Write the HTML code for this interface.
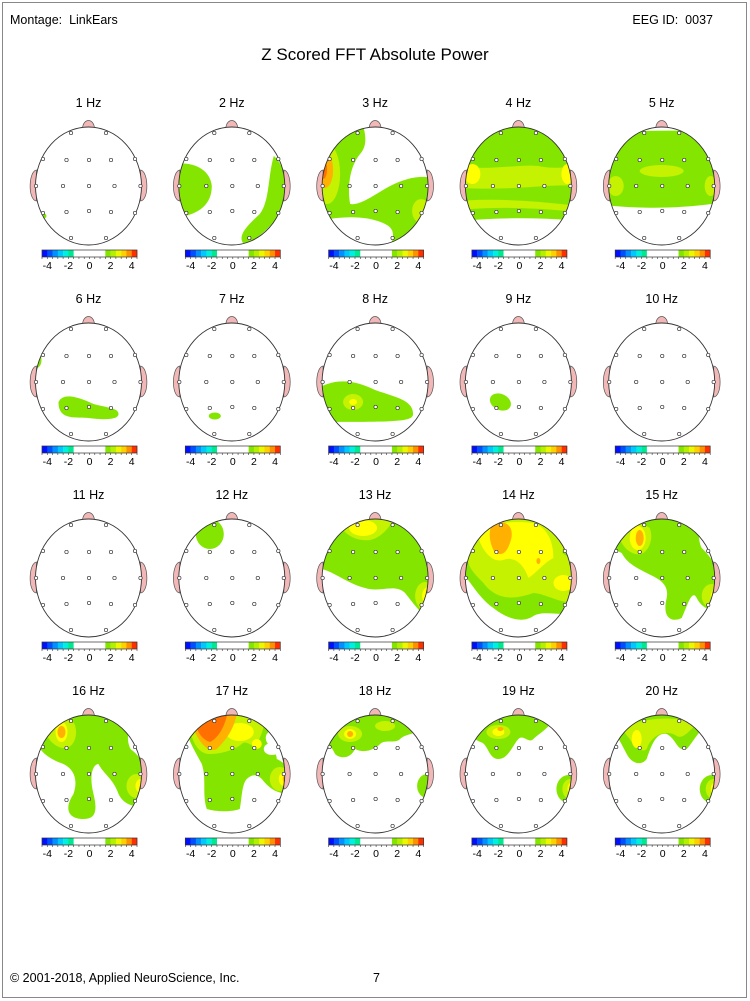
<!DOCTYPE html>
<html><head><meta charset="utf-8"><style>
body{margin:0;background:#fff;}
svg{display:block;font-family:"Liberation Sans",sans-serif;}
</style></head><body>
<svg id="s" width="750" height="1001" xmlns="http://www.w3.org/2000/svg">
<rect x="2.5" y="2.5" width="744" height="995" fill="#fff" stroke="#888" stroke-width="1"/>
<text x="10" y="24" font-size="12.5" xml:space="preserve">Montage:  LinkEars</text>
<text x="713" y="24" font-size="12.5" text-anchor="end" xml:space="preserve">EEG ID:  0037</text>
<text x="375" y="60" font-size="17" text-anchor="middle">Z Scored FFT Absolute Power</text>
<text x="10" y="982" font-size="12.5">© 2001-2018, Applied NeuroScience, Inc.</text>
<text x="373" y="982" font-size="12.5">7</text>
<g id="g"></g>
</svg>
<script>
const G="#84e600",LG="#c4f200",Y="#ffff00",O="#ffb000",DO="#ff7000",R="#ff3000",W="#fff";
const E=(x,y,rx,ry,c,rot)=>`<ellipse cx="${x}" cy="${y}" rx="${rx}" ry="${ry}" fill="${c}" ${rot?`transform="rotate(${rot} ${x} ${y})"`:''}/>`;
const P=(d,c)=>`<path d="${d}" fill="${c}"/>`;
const FULL=c=>`<rect x="-60" y="-65" width="120" height="130" fill="${c}"/>`;
const blobs=[
/*1*/ E(-46,30,4,3,G),
/*2*/ P("M-60,-22 C-40,-25 -22,-18 -20,0 C-20,20 -35,30 -60,32Z",G)+P("M42,-30 C55,-20 58,10 50,25 C40,40 25,55 12,58 C5,50 15,40 28,28 C38,15 36,-10 42,-30Z",G),
/*3*/ FULL(G)+P("M-15,-70 L70,-70 L70,-5 C50,-12 35,-10 15,0 C0,8 -15,20 -25,18 C-28,0 -25,-20 -15,-32 C-8,-40 -8,-50 -15,-70Z",W)+P("M-70,38 C-40,30 -10,28 10,38 C25,45 15,60 10,70 L-70,70Z",W)+E(-48,-12,13,30,LG)+E(-50,-16,8,18,O)+E(-52,-17,4,10,DO)+E(46,25,9,12,LG),
/*4*/ FULL(G)+P("M-70,36 C-30,32 20,30 70,36 L70,70 L-70,70Z",W)+P("M-70,-70 L70,-70 L70,-54 C40,-52 20,-58 10,-62 L-20,-62 C-35,-55 -50,-52 -70,-50Z",W)+P("M-60,-20 C-30,-15 0,-22 20,-20 C40,-16 50,-20 60,-20 L60,0 C30,-3 0,5 -60,2Z",LG)+E(-46,-12,8,10,Y)+E(49,-12,6,10,Y)+P("M-60,15 C-20,12 20,15 60,20 L60,26 C20,22 -20,20 -60,24Z",LG),
/*5*/ FULL(G)+P("M-70,18 C-30,22 10,25 70,15 L70,70 L-70,70Z",W)+P("M-70,-70 L70,-70 L70,-54 C40,-56 -40,-56 -70,-52Z",W)+E(-46,0,8,10,LG)+E(49,0,6,10,LG)+E(0,-15,22,6,LG),
/*6*/ E(-52,-22,5,8,G)+P("M-30,20 C-25,10 -10,15 5,22 C20,26 30,26 30,32 C30,38 15,38 0,36 C-15,35 -30,38 -30,20Z",G),
/*7*/ E(-17,34,6,3.5,G),
/*8*/ P("M-60,8 C-40,-5 -20,-2 0,8 C20,15 38,18 38,32 C38,40 20,40 -60,40Z",G)+E(-22,20,10,8,LG)+E(-22,20,4,3,Y),
/*9*/ E(-18,20,11,8,G,25),
/*10*/ "",
/*11*/ "",
/*12*/ E(-22,-44,14,15,G),
/*13*/ P("M-60,-70 L40,-70 C45,-60 50,-40 60,-20 L60,40 C48,40 42,30 30,15 C20,5 5,15 -10,10 C-30,5 -45,-10 -60,-10Z",G)+P("M-40,-62 L20,-62 C15,-50 5,-40 -5,-38 C-20,-36 -35,-45 -40,-62Z",LG)+E(-12,-50,14,8,Y)+E(50,18,10,14,LG)+E(53,18,6,9,Y)+E(55,18,3,5,O),
/*14*/ P("M-60,-30 L-60,-70 L60,-70 L60,35 C40,38 25,32 15,38 C5,45 -10,42 -25,30 C-40,20 -50,0 -60,-10Z",G)+P("M-50,-30 C-40,-45 -30,-60 0,-62 L40,-62 C45,-50 48,-40 44,-25 L58,-15 L58,25 C40,25 25,15 15,15 C0,20 -20,25 -35,5 C-45,-5 -55,-15 -50,-30Z",LG)+P("M-40,-40 C-30,-55 -10,-58 15,-55 C30,-50 35,-35 35,-20 C25,-15 18,-5 10,0 C5,-15 -5,-22 -15,-18 C-25,-15 -35,-25 -40,-40Z",Y)+E(45,5,10,8,Y)+P("M-25,-55 C-12,-58 -5,-52 -7,-40 C-10,-28 -15,-20 -24,-26 C-29,-35 -31,-48 -25,-55Z",O)+E(20,-17,2,3,O),
/*15*/ P("M-55,-45 C-40,-60 -10,-65 30,-60 C40,-50 35,-40 40,-30 C50,-20 60,-10 60,30 C50,35 40,30 35,20 C30,10 25,30 20,40 C10,45 0,40 5,20 C8,5 -5,0 -15,-5 C-25,-10 -35,-15 -40,-25 C-50,-30 -58,-35 -55,-45Z",G)+P("M-44,-45 C-35,-56 -20,-56 -12,-50 C-8,-40 -12,-28 -20,-24 C-30,-22 -40,-30 -44,-45Z",LG)+E(-24,-40,8,12,Y)+E(-22,-40,4,8,O)+E(50,18,10,12,LG)+E(54,18,5,7,Y)+E(56,18,3,4,O),
/*16*/ P("M-55,-45 C-40,-62 0,-65 40,-60 C45,-50 35,-40 42,-25 C55,-15 60,-5 60,30 C45,35 35,30 30,20 C25,5 15,0 10,-10 C5,-10 0,0 5,20 C10,40 5,45 -5,45 C-20,45 -25,35 -15,20 C-10,5 -15,-5 -25,-10 C-40,-15 -55,-25 -55,-45Z",G)+P("M-46,-48 C-35,-58 -18,-58 -14,-50 C-10,-40 -14,-28 -22,-26 C-34,-25 -42,-36 -46,-48Z",LG)+E(-27,-42,6,10,Y)+E(-27,-42,4,6,O)+E(48,12,10,12,LG)+E(52,12,5,7,Y)+E(55,12,3,4,O),
/*17*/ P("M-45,-45 C-30,-62 10,-65 35,-62 C45,-52 40,-45 35,-40 C30,-30 45,-25 45,-15 C55,-10 60,-5 60,20 C45,20 38,15 30,5 C25,0 20,0 15,5 C10,10 10,25 8,35 C0,38 -15,38 -25,35 C-30,20 -25,5 -30,-10 C-35,-20 -45,-35 -45,-45Z",G)+P("M-42,-45 C-30,-60 0,-62 30,-60 C35,-50 30,-40 25,-30 C20,-25 15,-35 10,-30 C0,-22 -15,-20 -22,-20 C-35,-20 -40,-35 -42,-45Z",LG)+E(8,-42,14,9,Y)+E(25,-30,5,5,Y)+P("M-40,-50 C-25,-62 -10,-64 5,-60 C2,-45 -5,-35 -15,-25 C-25,-20 -35,-35 -40,-50Z",O)+P("M-35,-50 C-25,-60 -15,-60 -5,-58 C-8,-45 -15,-35 -22,-32 C-30,-35 -35,-42 -35,-50Z",DO)+E(48,5,10,12,LG)+E(52,5,5,7,Y)+E(54,5,3,4,O)+E(40,-25,8,6,W),
/*18*/ P("M-50,-45 C-30,-65 30,-65 50,-45 C40,-40 30,-40 25,-35 C20,-30 10,-35 5,-30 C0,-25 -10,-20 -20,-25 C-25,-15 -35,-15 -40,-20 C-45,-30 -50,-35 -50,-45Z",G)+E(-25,-40,12,8,LG)+E(-25,-40,6,5,Y)+E(-25,-40,3,3,O)+E(10,-48,10,5,LG)+E(52,12,10,12,G),
/*19*/ P("M-48,-45 C-30,-65 20,-65 35,-55 C30,-45 20,-40 15,-35 C10,-30 5,-40 0,-35 C-5,-30 -10,-15 -20,-15 C-30,-15 -30,-30 -38,-32 C-45,-35 -50,-40 -48,-45Z",G)+E(-20,-42,12,7,LG)+E(-20,-42,6,4,Y)+E(-18,-45,3,2,O)+E(50,15,12,14,G)+E(52,15,8,10,LG)+E(54,15,5,7,Y)+E(56,15,3,4,DO),
/*20*/ P("M-48,-45 C-30,-65 30,-65 45,-50 C35,-40 30,-30 25,-25 C15,-22 15,-35 5,-40 C-5,-42 -10,-30 -15,-15 C-20,-8 -30,-10 -35,-20 C-40,-30 -45,-38 -48,-45Z",G)+P("M-40,-45 C-20,-58 20,-58 35,-50 C25,-40 20,-35 15,-38 C5,-45 -10,-40 -15,-25 C-20,-20 -28,-28 -32,-35Z",LG)+E(-25,-35,5,9,Y)+E(50,15,12,14,G)+E(52,15,8,10,LG)+E(54,15,5,7,Y)+E(56,15,3,4,DO)
];
const el=[[-17.5,-53],[17.5,-53],[-45.5,-27],[-22,-26],[0.5,-26],[22.5,-26],[46.5,-27],[-52.5,0],[-25.5,0],[0.5,0],[26,0],[52,0],[-45.5,27],[-22,26],[0.5,25],[22.5,26],[46.5,27],[-17.5,52],[17.5,52]];
const cb=["#0010ff","#0050ff","#0090ff","#00c8ff","#00f0e0","#00e890",W,W,W,W,W,W,"#84e600","#b4f000","#ecf800","#ffd000","#ff9000","#ff3000"];
let out="";
for(let k=0;k<20;k++){
 const i=k%5,j=Math.floor(k/5);
 const cx=88.5+143.3*i,cy=186+196*j;
 let s=`<g transform="translate(${cx},${cy})">`;
 s+=`<text x="0" y="-79" font-size="12.5" text-anchor="middle">${k+1} Hz</text>`;
 s+=`<path d="M-6,-58 C-5,-68 5,-68 6,-58Z" fill="#f2b8b8" stroke="#555" stroke-width="0.7"/>`;
 s+=`<path d="M-52,-16 C-60,-15 -61,14 -52,15Z" fill="#f2b8b8" stroke="#555" stroke-width="0.7"/>`;
 s+=`<path d="M52,-16 C60,-15 61,14 52,15Z" fill="#f2b8b8" stroke="#555" stroke-width="0.7"/>`;
 s+=`<clipPath id="c${k}"><ellipse cx="0" cy="0" rx="53" ry="59"/></clipPath>`;
 s+=`<ellipse cx="0" cy="0" rx="53" ry="59" fill="#fff"/>`;
 s+=`<g clip-path="url(#c${k})">${blobs[k]}</g>`;
 s+=`<ellipse cx="0" cy="0" rx="53" ry="59" fill="none" stroke="#333" stroke-width="0.9"/>`;
 for(const [x,y] of el) s+=`<circle cx="${x}" cy="${y}" r="1.7" fill="#fff" stroke="#333" stroke-width="0.7"/>`;
 const w=95/18;
 cb.forEach((c,n)=>{s+=`<rect x="${-46.5+n*w}" y="64" width="${w+0.2}" height="7" fill="${c}"/>`;});
 s+=`<rect x="-46.5" y="64" width="95" height="7" fill="none" stroke="#333" stroke-width="0.7"/>`;
 for(let n=0;n<=18;n++) s+=`<line x1="${-46.5+n*w}" y1="71" x2="${-46.5+n*w}" y2="73" stroke="#333" stroke-width="0.6"/>`;
 [-4,-2,0,2,4].forEach(v=>{s+=`<text x="${1+v*10.55}" y="83" font-size="10.5" text-anchor="middle">${v}</text>`;});
 s+=`</g>`;
 out+=s;
}
document.getElementById("g").innerHTML=out;
</script>
</body></html>
